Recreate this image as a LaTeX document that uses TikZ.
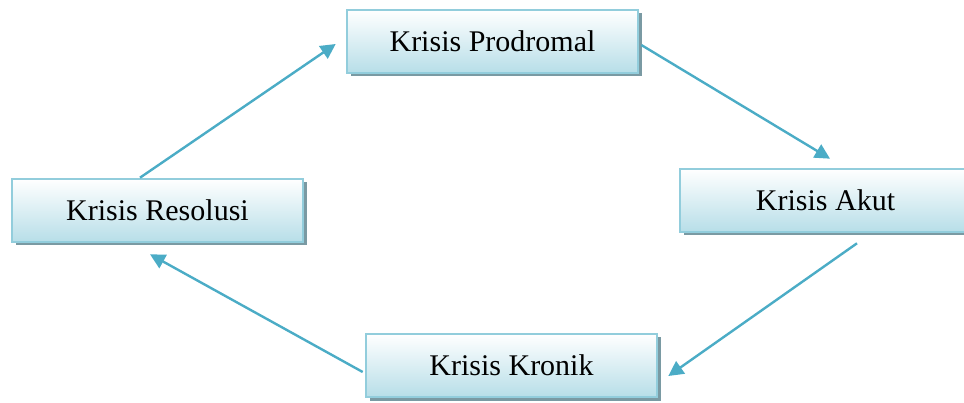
\documentclass[tikz,border=0pt]{standalone}
\usepackage{fontspec}
\setmainfont{Liberation Serif}
\usetikzlibrary{arrows.meta,calc,shadows}
\definecolor{arrowblue}{HTML}{4BACC6}
\definecolor{boxborder}{HTML}{92CDDC}
\definecolor{boxbottom}{HTML}{B7DEE8}
\definecolor{shadowgray}{HTML}{7A9AA3}
\tikzset{
  stagebox/.style={draw=boxborder, line width=2.6pt, minimum width=291pt, minimum height=63pt,
    top color=white, bottom color=boxbottom, inner sep=0pt,
    font=\fontsize{30}{36}\selectfont,
    drop shadow={shadow xshift=3.5pt, shadow yshift=-3.5pt, fill=shadowgray, opacity=1}},
  flow/.style={draw=arrowblue, line width=2.4pt, -{Triangle[length=15pt,width=15pt]}}
}
\begin{document}
\begin{tikzpicture}[x=1pt,y=-1pt]
\useasboundingbox (0,0) rectangle (964,403);
\clip (0,0) rectangle (964,403);
\node[stagebox] (pro) at (492.5,41.5) {Krisis Prodromal};
\node[stagebox] (res) at (157.5,210.5) {Krisis Resolusi};
\node[stagebox] (aku) at (825.5,200.5) {Krisis Akut};
\node[stagebox] (kro) at (511.5,365.5) {Krisis Kronik};
\draw[flow] ([xshift=-17.5pt]res.north) -- ([xshift=-10pt,yshift=-2.5pt]pro.west);
\draw[flow] ([xshift=2pt,yshift=-3.5pt]pro.east) -- ([xshift=4.5pt,yshift=9pt]aku.north);
\draw[flow] ([xshift=31.5pt,yshift=-10pt]aku.south) -- ([xshift=10pt,yshift=-10.5pt]kro.east);
\draw[flow] ([xshift=-2pt,yshift=-6.5pt]kro.west) -- ([xshift=-7.5pt,yshift=-11pt]res.south);
\end{tikzpicture}
\end{document}
